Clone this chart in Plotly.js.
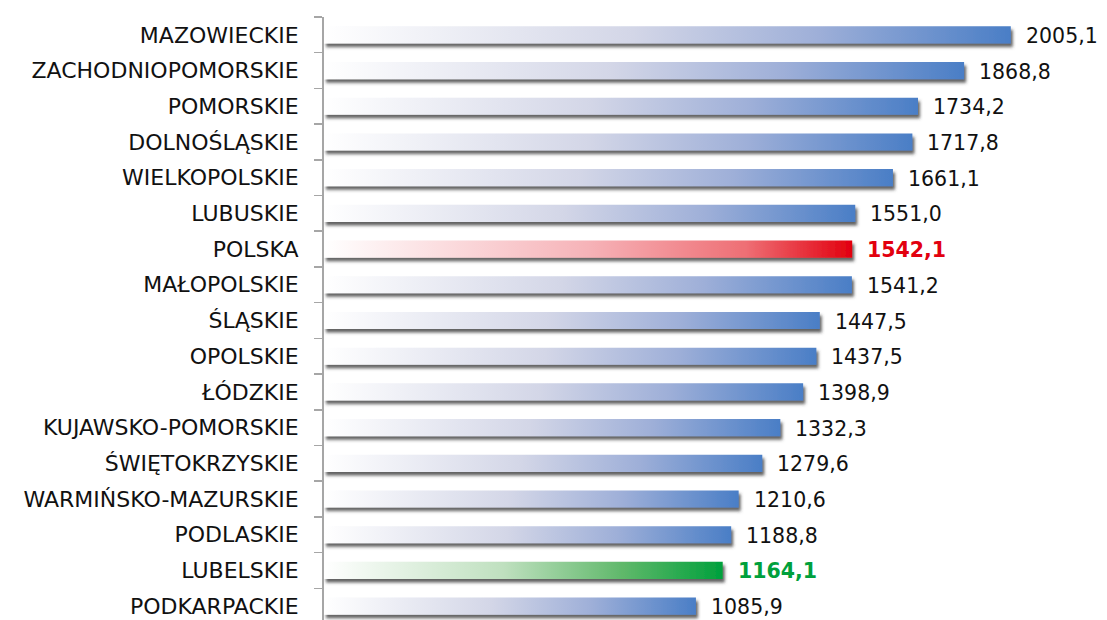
<!DOCTYPE html>
<html><head><meta charset="utf-8">
<script src="https://cdn.plot.ly/plotly-3.0.1.min.js"></script>
<style>html,body{margin:0;padding:0;overflow:hidden;background:#fff}#chart{width:1107px;height:625px}</style>
</head><body><div id="chart"></div>
<script>
const categories = ["MAZOWIECKIE","ZACHODNIOPOMORSKIE","POMORSKIE","DOLNOŚLĄSKIE","WIELKOPOLSKIE","LUBUSKIE","POLSKA","MAŁOPOLSKIE","ŚLĄSKIE","OPOLSKIE","ŁÓDZKIE","KUJAWSKO-POMORSKIE","ŚWIĘTOKRZYSKIE","WARMIŃSKO-MAZURSKIE","PODLASKIE","LUBELSKIE","PODKARPACKIE"];
const values = [2005.1,1868.8,1734.2,1717.8,1661.1,1551.0,1542.1,1541.2,1447.5,1437.5,1398.9,1332.3,1279.6,1210.6,1188.8,1164.1,1085.9];
const highlight = {"POLSKA":"red","LUBELSKIE":"green"};

const endColor = {blue:"#4a7ec6", red:"#e2000f", green:"#00a03c"};
const labelColor = {blue:"#111111", red:"#e2000f", green:"#00a03c"};
const kinds = categories.map(c => highlight[c] || "blue");
const fmt = v => v.toFixed(1).replace(".", ",");

const FONT = "DejaVu Sans";
const trace = {
  type: "bar", orientation: "h",
  x: values, y: categories,
  marker: {color: kinds.map(k => endColor[k]), line: {width: 0}},
  width: 0.48,
  hoverinfo: "none"
};
const annotations = values.map((v, i) => ({
  x: v, y: categories[i], xref: "x", yref: "y",
  text: kinds[i] === "blue" ? fmt(v) : "<b>" + fmt(v) + "</b>",
  showarrow: false, xanchor: "left", yanchor: "middle", xshift: 13, yshift: -1,
  font: {family: FONT, size: 20.5, color: labelColor[kinds[i]]}
}));
const layout = {
  width: 1107, height: 625,
  margin: {l: 324, r: 0, t: 17, b: 1},
  paper_bgcolor: "#fff", plot_bgcolor: "#fff",
  showlegend: false,
  xaxis: {range: [0, 2286], visible: false, fixedrange: true},
  yaxis: {
    type: "category", autorange: "reversed",
    showline: true, linecolor: "#a6a6a6", linewidth: 2,
    ticks: "outside", tickson: "boundaries", ticklen: 8, tickcolor: "#a6a6a6", tickwidth: 1.5,
    ticklabelstandoff: 19,
    tickfont: {family: FONT, size: 22, color: "#111"},
    showgrid: false, zeroline: false, fixedrange: true
  },
  annotations: annotations
};

Plotly.newPlot("chart", [trace], layout, {displayModeBar: false, staticPlot: true}).then(gd => {
  const svg = gd.querySelector("svg.main-svg");
  const NS = "http://www.w3.org/2000/svg";
  let defs = svg.querySelector("defs");
  if (!defs) { defs = document.createElementNS(NS, "defs"); svg.insertBefore(defs, svg.firstChild); }
  const stops = {
    blue: [[0,"#ffffff"],[0.45,"#d3d6e7"],[0.72,"#9eafd8"],[1,"#4a7ec6"]],
    red: [[0,"#ffffff"],[0.5,"#f6b3b8"],[0.8,"#ee6e74"],[1,"#e2000f"]],
    green: [[0,"#ffffff"],[0.45,"#bfe0bf"],[0.75,"#5fb86a"],[1,"#00a03c"]]
  };
  Object.keys(stops).forEach(k => {
    const g = document.createElementNS(NS, "linearGradient");
    g.setAttribute("id", "grad-" + k);
    g.setAttribute("x1", "0"); g.setAttribute("x2", "1"); g.setAttribute("y1", "0"); g.setAttribute("y2", "0");
    stops[k].forEach(([o, c]) => {
      const s = document.createElementNS(NS, "stop");
      s.setAttribute("offset", o); s.setAttribute("stop-color", c);
      g.appendChild(s);
    });
    defs.appendChild(g);
  });
  const f = document.createElementNS(NS, "filter");
  f.setAttribute("id", "barshadow");
  f.setAttribute("x", "-5%"); f.setAttribute("y", "-60%");
  f.setAttribute("width", "112%"); f.setAttribute("height", "260%");
  const ds = document.createElementNS(NS, "feDropShadow");
  ds.setAttribute("dx", "2"); ds.setAttribute("dy", "3.5");
  ds.setAttribute("stdDeviation", "1.5");
  ds.setAttribute("flood-color", "#3a3a3a"); ds.setAttribute("flood-opacity", "0.8");
  f.appendChild(ds);
  defs.appendChild(f);
  const paths = gd.querySelectorAll(".barlayer .point path");
  paths.forEach((p, i) => {
    p.style.fill = "url(#grad-" + kinds[i] + ")";
    p.style.filter = "url(#barshadow)";
  });
});
</script></body></html>
